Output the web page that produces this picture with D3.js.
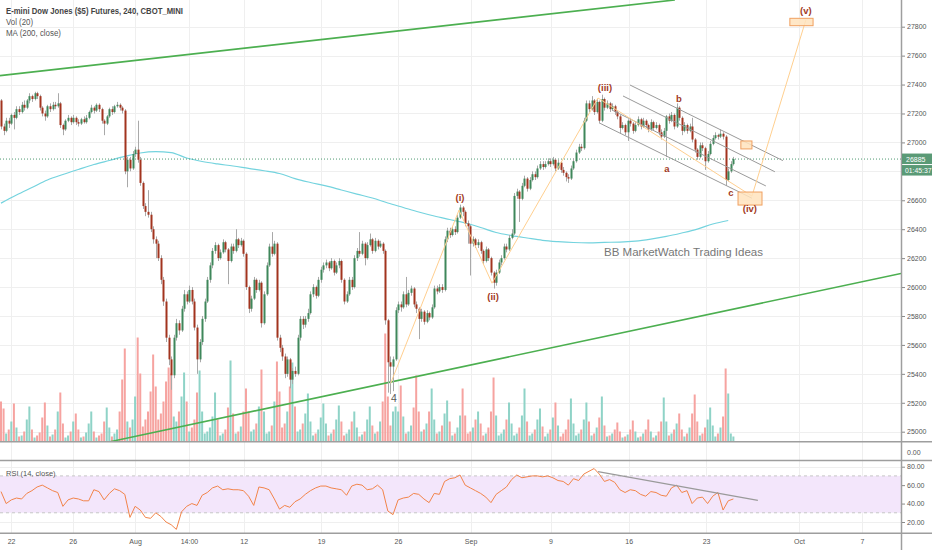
<!DOCTYPE html>
<html><head><meta charset="utf-8">
<script src="https://cdn.jsdelivr.net/npm/d3@7"></script>
<style>html,body{margin:0;padding:0;background:#fff;}svg{display:block;font-family:"Liberation Sans",Arial,sans-serif;}</style>
</head><body><svg id="c" width="932" height="550"></svg>
<script>
// ---------------- DATA ----------------
const firstOpen = 27290;
const closes = [
27110,27080,27150,27130,27190,27170,27230,27210,27260,27240,
27290,27320,27300,27340,27320,27240,27200,27180,27250,27230,
27260,27250,27270,27120,27090,27150,27170,27140,27170,27140,
27130,27160,27140,27170,27210,27240,27220,27260,27230,27150,
27130,27180,27230,27210,27250,27260,27240,27220,26800,26880,
26820,26920,26950,26880,26720,26560,26520,26500,26400,26330,
26300,26200,26050,25900,25650,25500,25390,25650,25750,25700,
25850,25950,25900,25980,25900,25720,25500,25620,25780,25900,
26050,26150,26250,26290,26200,26240,26310,26260,26180,26280,
26250,26330,26290,26320,26230,26000,25850,25920,26050,25980,
26030,25750,25950,26150,26280,26230,26300,25650,25580,25520,
25400,25500,25360,25420,25400,25650,25780,25740,25780,25820,
25950,26000,25940,26050,26120,26150,26170,26130,26180,26100,
26150,26180,26050,25900,25950,26050,26000,26200,26250,26230,
26300,26200,26290,26330,26250,26320,26280,26300,26250,25770,
25480,25450,25500,25840,25880,25860,25950,25880,25960,25990,
25880,25850,25780,25830,25760,25820,25790,25860,25990,25970,
26000,25980,26330,26390,26360,26400,26380,26480,26550,26520,
26440,26420,26300,26330,26290,26310,26250,26180,26260,26200,
26100,26030,26100,26170,26200,26280,26260,26340,26370,26630,
26660,26610,26700,26750,26680,26740,26780,26760,26820,26850,
26830,26850,26870,26850,26880,26820,26860,26810,26790,26760,
26750,26820,26870,26930,26970,26960,27150,27270,27230,27290,
27210,27280,27150,27300,27240,27270,27230,27250,27210,27180,
27100,27120,27070,27150,27130,27080,27120,27160,27110,27150,
27120,27090,27140,27100,27120,27070,27040,27080,27180,27150,
27190,27110,27240,27170,27080,27120,27080,27110,27020,26950,
26900,26980,26960,26870,26920,26990,27030,27050,27040,27060,
27040,26740,26800,26850,26885];
const highs = [
27300,27130,27170,27170,27200,27210,27250,27250,27280,27290,
27300,27340,27330,27350,27350,27330,27250,27220,27260,27270,
27280,27280,27340,27280,27130,27160,27190,27180,27190,27180,
27160,27170,27180,27190,27220,27260,27250,27270,27270,27240,
27160,27190,27240,27250,27260,27280,27270,27250,27230,26900,
26900,26940,26970,27150,26900,26730,26580,26670,26520,26420,
26350,26320,26220,26070,25920,25670,25520,25670,25780,25770,
25870,25980,25970,26010,26000,25920,25740,25640,25800,25920,
26070,26170,26270,26310,26300,26260,26330,26320,26270,26300,
26300,26400,26340,26340,26330,26240,26010,25940,26070,26060,
26050,26040,25970,26170,26300,26380,26320,26310,25670,25600,
25540,25520,25510,25440,25450,25670,25800,25800,25800,25850,
25970,26020,26010,26070,26140,26170,26190,26180,26200,26190,
26170,26200,26190,26060,25970,26070,26070,26220,26270,26380,
26320,26310,26310,26370,26340,26340,26330,26320,26310,26260,
25780,25520,25520,25860,25900,25900,25970,26070,25980,26010,
26000,25900,25860,25850,25840,25840,25830,25880,26010,26010,
26020,26020,26350,26410,26410,26420,26420,26500,26570,26560,
26530,26460,26430,26350,26340,26330,26320,26260,26280,26270,
26210,26110,26120,26190,26220,26300,26300,26360,26400,26650,
26680,26670,26720,26770,26760,26760,26800,26800,26840,26870,
26870,26870,26890,26890,26900,26890,26880,26870,26830,26800,
26780,26840,26890,26950,26990,26990,27170,27290,27290,27320,
27300,27300,27290,27330,27310,27290,27280,27270,27260,27220,
27190,27140,27130,27160,27170,27140,27140,27180,27170,27170,
27160,27130,27160,27150,27140,27130,27090,27100,27190,27200,
27210,27200,27270,27250,27180,27140,27130,27130,27170,27030,
26960,27000,27000,26970,26940,27010,27050,27070,27060,27090,
27070,27050,26820,26870,26900];
const lows = [
27090,27050,27070,27100,27120,27090,27160,27190,27200,27220,
27230,27270,27280,27290,27300,27220,27180,27150,27170,27210,
27220,27230,27240,27100,27050,27080,27140,27120,27130,27120,
27110,27120,27130,27130,27160,27200,27200,27210,27210,27130,
27050,27120,27170,27190,27200,27240,27220,27200,26780,26690,
26800,26810,26900,26860,26700,26540,26490,26480,26380,26300,
26200,26180,26020,25870,25620,25460,25290,25370,25630,25670,
25690,25830,25880,25890,25880,25700,25400,25480,25600,25760,
25890,26030,26130,26230,26180,26190,26230,26240,26020,26170,
26230,26240,26270,26280,26210,25980,25820,25830,25910,25960,
25970,25720,25740,25940,26140,26210,26220,25630,25550,25490,
25370,25380,25300,25330,25380,25390,25630,25710,25720,25760,
25810,25930,25920,25930,26030,26100,26130,26110,26120,26080,
26090,26130,26030,25880,25890,25940,25980,25990,26180,26210,
26220,26150,26190,26280,26230,26240,26260,26270,26230,25740,
25270,25260,25280,25490,25820,25830,25850,25860,25870,25940,
25860,25820,25640,25760,25740,25750,25770,25780,25850,25950,
25960,25960,25970,26310,26340,26350,26360,26370,26470,26490,
26420,26300,26080,26280,26270,26270,26230,26160,26170,26180,
26080,25990,26010,26090,26150,26190,26240,26250,26330,26360,
26610,26450,26600,26690,26660,26670,26730,26740,26750,26810,
26810,26820,26840,26830,26840,26800,26810,26790,26770,26730,
26720,26740,26810,26860,26920,26940,26950,27140,27210,27220,
27190,27200,27130,27140,27220,27230,27210,27220,27190,27160,
27060,27090,27050,27010,27110,27060,27070,27110,27090,27100,
27100,27070,27080,27080,27090,27050,27020,27030,26900,27130,
27140,27090,27100,27150,27050,27070,27060,27070,27000,26930,
26880,26890,26940,26810,26860,26910,26980,27020,27020,27030,
27020,26700,26730,26790,26840];
const volumes = [
40,33,8,12,20,38, 14,5,6,10,22,35, 12,4,6,9,24,39, 16,5,7,12,30,49,
18,4,6,10,20,28, 12,4,5,9,18,30, 10,4,6,8,20,34, 14,5,8,12,30,62,
93,20,14,22,45,104, 68,15,22,30,50,87, 55,22,28,40,60,74, 68,25,20,30,45,69,
40,10,14,22,49,71, 30,8,10,14,25,49, 22,6,8,12,34,81, 28,8,10,15,30,53,
30,10,12,18,35,72, 30,8,10,16,40,80, 50,14,18,30,55,79, 35,10,12,18,28,48,
20,6,8,12,24,38, 18,6,8,12,22,36, 20,6,8,12,20,30, 14,5,7,10,22,35,
16,8,10,20,40,108, 45,16,30,35,30,56, 25,8,10,16,34,66, 30,10,12,18,30,53,
22,8,10,16,28,41, 20,6,8,14,26,53, 26,8,10,14,22,30, 18,6,8,14,30,64,
26,6,8,12,22,39, 18,6,8,14,26,53, 20,6,8,12,22,33, 15,5,8,12,24,39,
16,5,8,12,22,43, 18,6,8,12,22,39, 20,6,8,14,24,45, 16,5,6,8,12,19,
10,4,5,7,12,21, 10,4,5,8,12,22, 10,4,6,10,20,44, 20,6,8,12,18,28,
12,5,8,14,28,47, 20,6,8,14,22,34, 16,5,8,14,25,73, 48,8,5];
// RSI(14) read every 2nd bar
const rsiValues = [
53,40,44,46,45,51,54,58,60,57, 54,52,37,44,46,45,43,43,55,53,
44,51,56,54,50,25,37,33,25,24, 30,26,20,17,12,31,37,40,38,49,
52,57,59,55,56,55,55,54,48,38, 58,57,55,45,34,38,36,42,45,50,
54,57,59,59,57,56,55,49,59,61, 60,55,56,60,55,32,28,44,46,47,
51,50,45,41,51,50,64,67,68,71, 60,57,54,51,47,41,50,54,58,66,
71,68,69,70,70,69,70,68,65,64, 60,67,65,72,75,78,72,64,66,63,
55,52,55,54,50,48,53,52,49,48, 57,60,52,54,40,46,47,40,48,52,
33,43,45];
// MA(200) read every 6th bar
const maValues = [
26580,26636,26688,26740,26778,26813,26847,26875,26903,26927,
26936,26930,26892,26868,26851,26837,26820,26804,26785,26750,
26723,26699,26671,26643,26616,26581,26550,26519,26491,26467,
26443,26412,26377,26356,26339,26323,26314,26308,26306,26309,
26311,26318,26332,26350,26374,26401,26436,26460];
const lastPrice = 26885;
const countdown = "01:45:37";
const timeTickIdx = [3.9,27.8,52,72.9,94.1,124.1,153.9,182.1,213.1,243.4,273.4,309.4,333.9];
const timeTickLabels = ["22","26","Aug","14:00","12","19","26","Sep","9","16","23","Oct","7"];
const priceTicks = [25000,25200,25400,25600,25800,26000,26200,26400,26600,26800,27000,27200,27400,27600,27800];
const rsiTicks = [20,40,60,80];
const rsiBand = [30,70];
// drawings (bar index, price)
const greenLines = [[[-0.4,27462],[261.3,27985]], [[42.3,24931],[349,26094]]];
const channelLines = [
  [[243.9,27397],[303.2,26874]],
  [[241.2,27321],[300.1,26797]],
  [[236.9,27224],[296.6,26699]],
  [[232.3,27132],[291.2,26614]]];
const wavePath = [[151.1,25334],[177.6,26532],[190.4,26027],[231.5,27307],[291.2,26629],[312.1,27846]];
const waveBoxes = [
  {i0:305.9,i1:314.9,p0:27858,p1:27807},
  {i0:285.8,i1:295.1,p0:26657,p1:26567},
  {i0:286.9,i1:291.2,p0:27010,p1:26955}];
const waveLabels = [
  {t:"(v)",i:312.1,p:27914},{t:"(iii)",i:234.2,p:27383},{t:"(i)",i:178,p:26616},
  {t:"(ii)",i:190.8,p:25938},{t:"(iv)",i:290.4,p:26540},{t:"a",i:258.2,p:26823},
  {t:"b",i:262.9,p:27307},{t:"c",i:283,p:26657}];
const waveFour = {t:"4",i:152.4,p:25233};
const rsiTrend = [[231.5,74.6],[293.5,43.5]];
const legendLines = ["E-mini Dow Jones ($5) Futures, 240, CBOT_MINI","Vol (20)","MA (200, close)"];
const watermark = "BB MarketWatch Trading Ideas";

// ---------------- DRAW ----------------
const svg = d3.select("#c");
const PR = 901; // right edge of plot area
const x = d3.scaleLinear().domain([0,349]).range([1,PR]);
const y = d3.scaleLinear().domain([25000,27800]).range([431.7,26.7]);
const yVol = d3.scaleLinear().domain([0,110]).range([441.5,331.5]);
const yRsi = d3.scaleLinear().domain([20,80]).range([522,466.7]);

const bars = closes.map((c,i)=>({i,o:i?closes[i-1]:firstOpen,c,h:highs[i],l:lows[i],v:volumes[i]}));
const UP="#3f875b", DOWN="#a2341f";

svg.append("rect").attr("width",932).attr("height",550).attr("fill","#fff");
const defs = svg.append("defs");
defs.append("clipPath").attr("id","mainClip").append("rect").attr("x",0).attr("y",0).attr("width",PR).attr("height",441);
defs.append("clipPath").attr("id","rsiClip").append("rect").attr("x",0).attr("y",461).attr("width",PR).attr("height",72);

// grid
const grid = svg.append("g").attr("stroke","#efefef").attr("stroke-width",1);
grid.selectAll(".hg").data(priceTicks).join("line")
  .attr("x1",0).attr("x2",PR).attr("y1",d=>Math.round(y(d))+0.5).attr("y2",d=>Math.round(y(d))+0.5);
grid.selectAll(".vg").data(timeTickIdx).join("line")
  .attr("x1",d=>Math.round(x(d))+0.5).attr("x2",d=>Math.round(x(d))+0.5).attr("y1",0).attr("y2",533);
grid.selectAll(".rg").data(rsiTicks).join("line")
  .attr("x1",0).attr("x2",PR).attr("y1",d=>Math.round(yRsi(d))+0.5).attr("y2",d=>Math.round(yRsi(d))+0.5);

const main = svg.append("g").attr("clip-path","url(#mainClip)");

// volume
main.append("g").selectAll("rect").data(bars).join("rect")
  .attr("x",d=>x(d.i)-1).attr("width",2)
  .attr("y",d=>yVol(d.v)).attr("height",d=>yVol(0)-yVol(d.v))
  .attr("fill",d=>d.c>=d.o?"#8fd3c7":"#f6a3a0");

// MA 200
main.append("path").datum(maValues)
  .attr("d",d3.line().x((d,k)=>x(k*6)).y(d=>y(d)).curve(d3.curveMonotoneX))
  .attr("fill","none").attr("stroke","#74d3de").attr("stroke-width",1.2);

// green trend lines
main.append("g").selectAll("line").data(greenLines).join("line")
  .attr("x1",d=>x(d[0][0])).attr("y1",d=>y(d[0][1])).attr("x2",d=>x(d[1][0])).attr("y2",d=>y(d[1][1]))
  .attr("stroke","#4caf50").attr("stroke-width",1.6);

// current price line
main.append("line").attr("x1",0).attr("x2",PR).attr("y1",y(lastPrice)).attr("y2",y(lastPrice))
  .attr("stroke","#4f9a72").attr("stroke-width",1).attr("stroke-dasharray","1,2");

// candles
const cg = main.append("g");
cg.selectAll(".wick").data(bars).join("line")
  .attr("x1",d=>Math.round(x(d.i))+0.5).attr("x2",d=>Math.round(x(d.i))+0.5)
  .attr("y1",d=>y(d.h)).attr("y2",d=>y(d.l)).attr("stroke","#a9a9a9").attr("stroke-width",1);
cg.selectAll(".body").data(bars).join("rect")
  .attr("x",d=>Math.round(x(d.i))-0.5).attr("width",2)
  .attr("y",d=>y(Math.max(d.o,d.c))).attr("height",d=>Math.max(1,Math.abs(y(d.o)-y(d.c))))
  .attr("fill",d=>d.c>=d.o?UP:DOWN);

// channel lines
main.append("g").selectAll("line").data(channelLines).join("line")
  .attr("x1",d=>x(d[0][0])).attr("y1",d=>y(d[0][1])).attr("x2",d=>x(d[1][0])).attr("y2",d=>y(d[1][1]))
  .attr("stroke","#9a9a9a").attr("stroke-width",1);

// wave path
main.append("path").datum(wavePath)
  .attr("d",d3.line().x(d=>x(d[0])).y(d=>y(d[1])))
  .attr("fill","none").attr("stroke","#ffcf8f").attr("stroke-width",1);

// boxes
main.append("g").selectAll("rect").data(waveBoxes).join("rect")
  .attr("x",d=>x(d.i0)).attr("width",d=>x(d.i1)-x(d.i0))
  .attr("y",d=>y(d.p0)).attr("height",d=>y(d.p1)-y(d.p0))
  .attr("fill","#ffe3bd").attr("fill-opacity",0.85).attr("stroke","#f0a060").attr("stroke-width",1);

// wave labels
svg.append("g").selectAll("text").data(waveLabels).join("text")
  .attr("x",d=>x(d.i)).attr("y",d=>y(d.p)).attr("text-anchor","middle").attr("dominant-baseline","central")
  .attr("font-size",9.5).attr("font-weight",600).attr("fill","#a23a1e").text(d=>d.t);
svg.append("text").attr("x",x(waveFour.i)).attr("y",y(waveFour.p)).attr("text-anchor","middle")
  .attr("dominant-baseline","central").attr("font-size",10.5).attr("fill","#555").text(waveFour.t);

// watermark
svg.append("text").attr("x",604).attr("y",256).attr("font-size",11.5).attr("fill","#777")
  .attr("textLength",159).attr("lengthAdjust","spacingAndGlyphs").text(watermark);

// legend
const lg = svg.append("g").attr("font-size",8.5);
lg.append("text").attr("x",6).attr("y",13.5).attr("fill","#444").attr("font-weight",600)
  .attr("textLength",177).attr("lengthAdjust","spacingAndGlyphs").text(legendLines[0]);
lg.append("text").attr("x",6).attr("y",24.5).attr("fill","#555").attr("textLength",27).attr("lengthAdjust","spacingAndGlyphs").text(legendLines[1]);
lg.append("text").attr("x",6).attr("y",35.5).attr("fill","#555").attr("textLength",55).attr("lengthAdjust","spacingAndGlyphs").text(legendLines[2]);

// RSI pane
const rsiG = svg.append("g").attr("clip-path","url(#rsiClip)");
rsiG.append("rect").attr("x",0).attr("width",PR).attr("y",yRsi(rsiBand[1])).attr("height",yRsi(rsiBand[0])-yRsi(rsiBand[1]))
  .attr("fill","#f3e6fb");
rsiG.selectAll(".bl").data(rsiBand).join("line")
  .attr("x1",0).attr("x2",PR).attr("y1",d=>yRsi(d)).attr("y2",d=>yRsi(d))
  .attr("stroke","#c6c6c6").attr("stroke-dasharray","3,3");
rsiG.append("path").datum(rsiValues)
  .attr("d",d3.line().x((d,k)=>x(k*2)).y(d=>yRsi(d)))
  .attr("fill","none").attr("stroke","#f2844a").attr("stroke-width",1);
rsiG.append("line").attr("x1",x(rsiTrend[0][0])).attr("y1",yRsi(rsiTrend[0][1]))
  .attr("x2",x(rsiTrend[1][0])).attr("y2",yRsi(rsiTrend[1][1])).attr("stroke","#9a9a9a").attr("stroke-width",1.2);
svg.append("text").attr("x",6).attr("y",476).attr("font-size",7.5).attr("fill","#555").text("RSI (14, close)");

// separators
const sep = svg.append("g").attr("stroke","#9e9e9e").attr("stroke-width",1.5);
[441.8,460.5,533.3].forEach(v=>sep.append("line").attr("x1",0).attr("x2",932).attr("y1",v).attr("y2",v));
sep.append("line").attr("x1",PR+0.5).attr("x2",PR+0.5).attr("y1",0).attr("y2",550);

// price axis (labels hidden where the last-price tags sit, as in the reference)
const tagTop = y(lastPrice)-6, tagBottom = y(lastPrice)+17;
const axStyle = g=>{g.select(".domain").remove();g.selectAll("line").attr("stroke","#8a8a8a");
  g.selectAll("text").attr("font-size",7).attr("fill","#555").attr("font-family","Liberation Sans, Arial, sans-serif");};
const pAxis = svg.append("g").attr("transform",`translate(${PR+1},0)`)
  .call(d3.axisRight(y).tickValues(priceTicks).tickSize(3).tickPadding(2).tickFormat(d3.format("d"))).call(axStyle);
pAxis.selectAll(".tick").filter(d=>y(d)>tagTop-3 && y(d)<tagBottom+3).select("text").remove();
svg.append("g").attr("transform",`translate(${PR+1},0)`)
  .call(d3.axisRight(yRsi).tickValues(rsiTicks).tickSize(3).tickPadding(2).tickFormat(d3.format(".2f"))).call(axStyle);
svg.append("text").attr("x",PR+6).attr("y",452).attr("dominant-baseline","central").attr("font-size",7).attr("fill","#555").text("0.00");
// time axis
svg.append("g").attr("transform","translate(0,537)")
  .call(d3.axisBottom(x).tickValues(timeTickIdx).tickSize(0).tickPadding(2).tickFormat((d,k)=>timeTickLabels[k])).call(axStyle);

// last price tags
const tag = svg.append("g");
tag.append("rect").attr("x",PR+1).attr("y",y(lastPrice)-5.5).attr("width",31).attr("height",10.5).attr("fill","#5a9a76");
tag.append("text").attr("x",PR+5).attr("y",y(lastPrice)).attr("dominant-baseline","central").attr("font-size",7).attr("fill","#fff").text(lastPrice);
tag.append("rect").attr("x",PR+1).attr("y",y(lastPrice)+6).attr("width",31).attr("height",10.5).attr("fill","#5a9a76");
tag.append("text").attr("x",PR+4).attr("y",y(lastPrice)+11.5).attr("dominant-baseline","central").attr("font-size",6.8).attr("fill","#fff").text(countdown);
</script></body></html>
